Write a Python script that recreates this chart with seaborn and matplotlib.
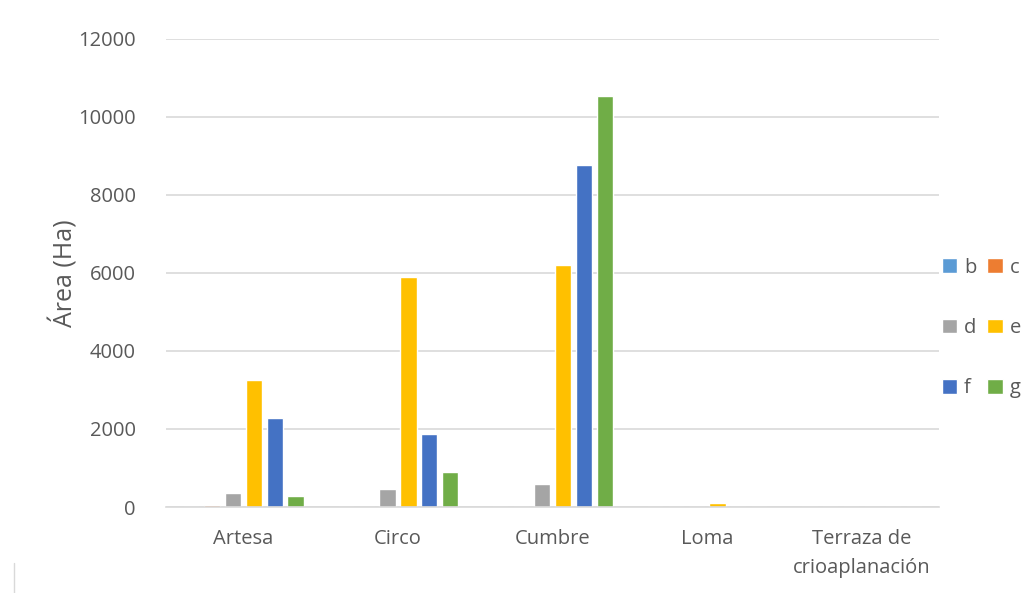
import pandas as pd
import numpy as np
import matplotlib.pyplot as plt
import seaborn as sns

categories = ['Artesa', 'Circo', 'Cumbre', 'Loma', 'Terraza de\ncrioaplanación']
series = ['b', 'c', 'd', 'e', 'f', 'g']
b_vals = [0, 0, 0, 0, 0]
c_vals = [50, 0, 0, 0, 0]
d_vals = [360, 460, 590, 0, 0]
e_vals = [3250, 5900, 6200, 100, 0]
f_vals = [2290, 1870, 8770, 0, 0]
g_vals = [270, 900, 10530, 0, 0]
colors = ['#5B9BD5', '#ED7D31', '#A5A5A5', '#FFC000', '#4472C4', '#70AD47']

rows = []
for s, vals in zip(series, [b_vals, c_vals, d_vals, e_vals, f_vals, g_vals]):
    for cat, v in zip(categories, vals):
        rows.append({'Geoforma': cat, 'Serie': s, 'Area': v})
df = pd.DataFrame(rows)

sns.set_style('white')
plt.rcParams['font.family'] = ['Open Sans', 'DejaVu Sans']

fig = plt.figure(figsize=(10.26, 5.93), dpi=100)
ax = fig.add_axes([0.162, 0.145, 0.753, 0.79])
sns.barplot(data=df, x='Geoforma', y='Area', hue='Serie', palette=colors,
            width=0.81, gap=0.22, ax=ax, errorbar=None, saturation=1)

ax.set_ylim(0, 12000)
ax.set_yticks(np.arange(0, 12001, 2000))
ax.set_xlim(-0.5, 4.5)
ax.yaxis.grid(True, color='#D9D9D9', linewidth=1.2)
ax.set_axisbelow(True)
for sp in ['top', 'right', 'left']:
    ax.spines[sp].set_visible(False)
ax.spines['bottom'].set_color('#D9D9D9')
ax.spines['bottom'].set_linewidth(1.2)
ax.tick_params(axis='y', length=0, labelsize=14.5, colors='#595959', pad=22)
ax.tick_params(axis='x', length=0, labelsize=14.5, colors='#595959', pad=16)
for t in ax.get_xticklabels():
    t.set_linespacing(1.6)
ax.set_xlabel('')
ax.set_ylabel('Área (Ha)', fontsize=18, color='#595959', labelpad=0)

# reorder so that rows read b c / d e / f g
handles, labels = ax.get_legend_handles_labels()
order = [0, 2, 4, 1, 3, 5]
ax.legend([handles[i] for i in order], [labels[i] for i in order],
          title=None, ncol=2, loc='center left', bbox_to_anchor=(0.918, 0.447),
          bbox_transform=fig.transFigure, frameon=False, fontsize=14.5,
          labelcolor='#595959', handlelength=0.75, handleheight=0.75,
          handletextpad=0.35, columnspacing=0.55, labelspacing=2.0,
          borderpad=0, borderaxespad=0)

fig.add_artist(plt.Line2D([0.014, 0.014], [0.0, 0.05], color='#D9D9D9', lw=1))

fig.savefig('out.png', dpi=100)
